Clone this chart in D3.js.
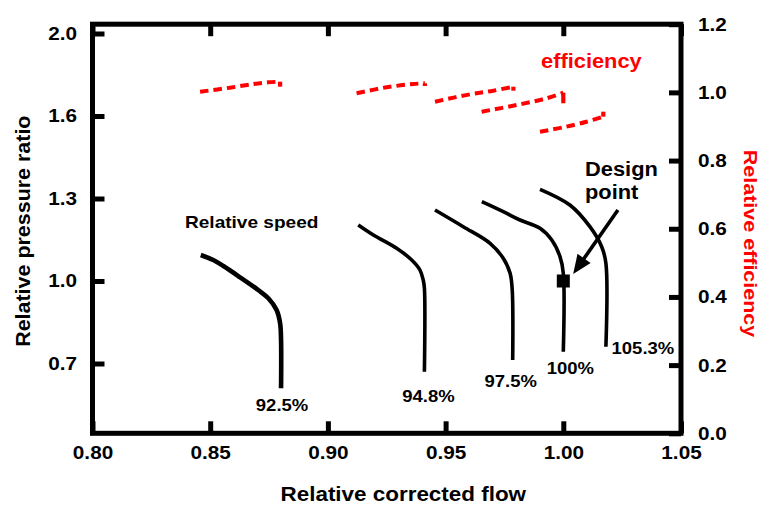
<!DOCTYPE html>
<html>
<head>
<meta charset="utf-8">
<script src="https://cdn.jsdelivr.net/npm/d3@7"></script>
<style>
  html, body { margin: 0; padding: 0; background: #fff; }
  svg { display: block; font-family: "Liberation Sans", Arial, Helvetica, sans-serif; font-weight: bold; }
</style>
</head>
<body>
<svg id="chart" width="760" height="505"></svg>
<script>
// ---- data: constant-speed lines [relative corrected flow, relative pressure ratio]
const speedNames = ["92.5%", "94.8%", "97.5%", "100%", "105.3%"];
const speed925 = [[0.8460, 1.0945], [0.8513, 1.0764], [0.8556, 1.0545], [0.8627, 1.0135], [0.8704, 0.9673],
                  [0.8747, 0.9371], [0.8782, 0.8945], [0.8797, 0.8462], [0.8801, 0.7855], [0.8801, 0.6098]];
const speed948 = [[0.9129, 1.2036], [0.9193, 1.1673], [0.9292, 1.1189], [0.9356, 1.0764], [0.9391, 1.0400],
                  [0.9405, 1.0036], [0.9410, 0.9734], [0.9410, 0.6702]];
const speed975 = [[0.9455, 1.2582], [0.9575, 1.1975], [0.9689, 1.1371], [0.9745, 1.0825], [0.9774, 1.0280],
                  [0.9783, 0.9673], [0.9785, 0.7127]];
const speed1000 = [[0.9654, 1.2884], [0.9745, 1.2520], [0.9816, 1.2218], [0.9901, 1.1916], [0.9951, 1.1491],
                   [0.9986, 1.0884], [1.0000, 1.0280], [1.0000, 0.7429]];
const speed1053 = [[0.9901, 1.3335], [1.0028, 1.2764], [1.0113, 1.1975], [1.0163, 1.1247], [1.0181, 1.0644],
                   [1.0181, 0.7611]];

// ---- data: relative efficiency along each speed line [relative corrected flow, relative efficiency]
const eff925 = [[0.8457, 1.0020], [0.8584, 1.0138], [0.8683, 1.0246], [0.8747, 1.0296], [0.8797, 1.0314], [0.8797, 1.0167]];
const eff948 = [[0.9122, 0.9974], [0.9250, 1.0150], [0.9363, 1.0246], [0.9412, 1.0267], [0.9412, 1.0188]];
const eff975 = [[0.9455, 0.9727], [0.9604, 0.9944], [0.9703, 1.0050], [0.9788, 1.0167], [0.9788, 1.0050]];
const eff1000 = [[0.9653, 0.9434], [0.9802, 0.9630], [0.9929, 0.9827], [1.0000, 0.9991], [1.0000, 0.9680]];
const eff1053 = [[0.9901, 0.8847], [1.0000, 0.8976], [1.0099, 0.9140], [1.0170, 0.9287], [1.0170, 0.9434]];

const designPoint = [1.00, 1.00];
const designArrow = [[1.0232, 1.258], [1.0042, 1.0255]];

// ---- axis ticks
const flowTicks = [0.80, 0.85, 0.90, 0.95, 1.00, 1.05];
const flowTickLabels = ["0.80", "0.85", "0.90", "0.95", "1.00", "1.05"];
const prTicks = [0.7, 1.0, 1.3, 1.6, 1.9];
const prTickLabels = ["0.7", "1.0", "1.3", "1.6", "2.0"];
const effTicks = [0.0, 0.2, 0.4, 0.6, 0.8, 1.0, 1.2];
const effTickLabels = ["0.0", "0.2", "0.4", "0.6", "0.8", "1.0", "1.2"];

// ---- layout & style
const speedLines = [speed925, speed948, speed975, speed1000, speed1053];
const effLines = [eff925, eff948, eff975, eff1000, eff1053];
const speedWidths = [4.6, 3.6, 3.6, 3.6, 3.6];
const labelOffsets = [[1, 23], [4, 30], [-2, 27], [7, 22], [37, 7]]; // px, from the last point of each line
const RED = "#ff0000";
const STRETCH = 1.12;

const svg = d3.select("#chart");
const L = 92.5, R = 681, T = 24.2, B = 433.3;

const x = d3.scaleLinear().domain([0.80, 1.05]).range([L, R]);
const yP = d3.scaleLinear().domain([0.4462, 1.9338]).range([B, T]);
const yE = d3.scaleLinear().domain([0.0, 1.2]).range([B, T]);

// widen glyphs slightly, the way the lettering is set
function stretch(sel, f) {
  sel.each(function () {
    const w = this.getComputedTextLength();
    d3.select(this).attr("textLength", w * (f || STRETCH)).attr("lengthAdjust", "spacingAndGlyphs");
  });
}

// ---- axes (inward ticks)
function styleAxis(g) {
  g.select(".domain").remove();
  g.selectAll(".tick line").attr("stroke", "#000").attr("stroke-width", 5);
  g.selectAll(".tick text").attr("fill", "#000").attr("font-size", 18.5)
    .attr("font-family", "Liberation Sans, Arial, sans-serif").attr("font-weight", "bold");
}

const gx = svg.append("g").attr("transform", `translate(0,${B})`)
  .call(d3.axisBottom(x).tickValues(flowTicks).tickSize(-12).tickPadding(13)
    .tickFormat((d, i) => flowTickLabels[i]));
styleAxis(gx);

const gxTop = svg.append("g").attr("transform", `translate(0,${T})`)
  .call(d3.axisTop(x).tickValues(flowTicks).tickSize(-12).tickFormat(""));
styleAxis(gxTop);

const gyL = svg.append("g").attr("transform", `translate(${L},0)`)
  .call(d3.axisLeft(yP).tickValues(prTicks).tickSize(-12).tickPadding(15.5)
    .tickFormat((d, i) => prTickLabels[i]));
styleAxis(gyL);

const gyR = svg.append("g").attr("transform", `translate(${R},0)`)
  .call(d3.axisRight(yE).tickValues(effTicks).tickSize(-12).tickPadding(17)
    .tickFormat((d, i) => effTickLabels[i]));
styleAxis(gyR);

svg.selectAll(".tick text").call(stretch);

// frame
svg.append("rect")
  .attr("x", L).attr("y", T).attr("width", R - L).attr("height", B - T)
  .attr("fill", "none").attr("stroke", "#000").attr("stroke-width", 5);

// ---- speed lines
const speedPath = d3.line().x(d => x(d[0])).y(d => yP(d[1])).curve(d3.curveCatmullRom.alpha(0.5));
svg.append("g").selectAll("path").data(speedLines).join("path")
  .attr("d", speedPath)
  .attr("fill", "none").attr("stroke", "#000")
  .attr("stroke-width", (d, i) => speedWidths[i])
  .attr("stroke-linecap", "butt").attr("stroke-linejoin", "round");

// speed labels below each line
svg.append("g").selectAll("text").data(speedLines).join("text")
  .attr("x", (d, i) => x(d[d.length - 1][0]) + labelOffsets[i][0])
  .attr("y", (d, i) => yP(d[d.length - 1][1]) + labelOffsets[i][1])
  .attr("text-anchor", "middle").attr("font-size", 16.5).attr("fill", "#000")
  .text((d, i) => speedNames[i])
  .call(stretch);

// ---- efficiency lines (dashed, with a short solid drop at the choke end)
const effPath = d3.line().x(d => x(d[0])).y(d => yE(d[1])).curve(d3.curveCatmullRom.alpha(0.5));
const ge = svg.append("g");
ge.selectAll("path.eff").data(effLines).join("path").attr("class", "eff")
  .attr("d", d => effPath(d.slice(0, d.length - 1)))
  .attr("fill", "none").attr("stroke", RED).attr("stroke-width", 4)
  .attr("stroke-dasharray", "8.5,5").attr("stroke-linecap", "butt");
ge.selectAll("line.end").data(effLines).join("line").attr("class", "end")
  .attr("x1", d => x(d[d.length - 2][0])).attr("y1", d => yE(d[d.length - 2][1]))
  .attr("x2", d => x(d[d.length - 1][0])).attr("y2", d => yE(d[d.length - 1][1]))
  .attr("stroke", RED).attr("stroke-width", 4.2);

// ---- design point and arrow
svg.append("rect")
  .attr("x", x(designPoint[0]) - 6.5).attr("y", yP(designPoint[1]) - 6.5)
  .attr("width", 13).attr("height", 13).attr("fill", "#000");

{
  const [x0, y0] = [x(designArrow[0][0]), yP(designArrow[0][1])];
  const [x1, y1] = [x(designArrow[1][0]), yP(designArrow[1][1])];
  const ang = Math.atan2(y1 - y0, x1 - x0);
  const headLen = 19, headHalf = 8;
  const bx = x1 - headLen * Math.cos(ang), by = y1 - headLen * Math.sin(ang);
  svg.append("line").attr("x1", x0).attr("y1", y0).attr("x2", bx + 2 * Math.cos(ang)).attr("y2", by + 2 * Math.sin(ang))
    .attr("stroke", "#000").attr("stroke-width", 3.6);
  const px = -Math.sin(ang), py = Math.cos(ang);
  svg.append("polygon")
    .attr("points", [[x1, y1], [bx + headHalf * px, by + headHalf * py], [bx - headHalf * px, by - headHalf * py]]
      .map(p => p.join(",")).join(" "))
    .attr("fill", "#000");
}

// ---- annotations
svg.append("text").attr("x", 251.7).attr("y", 228.3).attr("text-anchor", "middle")
  .attr("font-size", 17).text("Relative speed").call(stretch);
svg.append("text").attr("x", 585).attr("y", 176).attr("font-size", 19.5).text("Design").call(stretch);
svg.append("text").attr("x", 585).attr("y", 199).attr("font-size", 19.5).text("point").call(stretch);
svg.append("text").attr("x", 541).attr("y", 68).attr("font-size", 19.5).attr("fill", RED)
  .text("efficiency").call(stretch);

// ---- axis titles
svg.append("text").attr("x", 403.3).attr("y", 500.5).attr("text-anchor", "middle")
  .attr("font-size", 19.5).text("Relative corrected flow").call(stretch, 1.15);
svg.append("text").attr("transform", "translate(29.5,231.2) rotate(-90)").attr("text-anchor", "middle")
  .attr("font-size", 19.5).text("Relative pressure ratio").call(stretch, 1.10);
svg.append("text").attr("transform", "translate(744,243.5) rotate(90)").attr("text-anchor", "middle")
  .attr("font-size", 19).attr("fill", RED).text("Relative efficiency").call(stretch, 1.13);
</script>
</body>
</html>
